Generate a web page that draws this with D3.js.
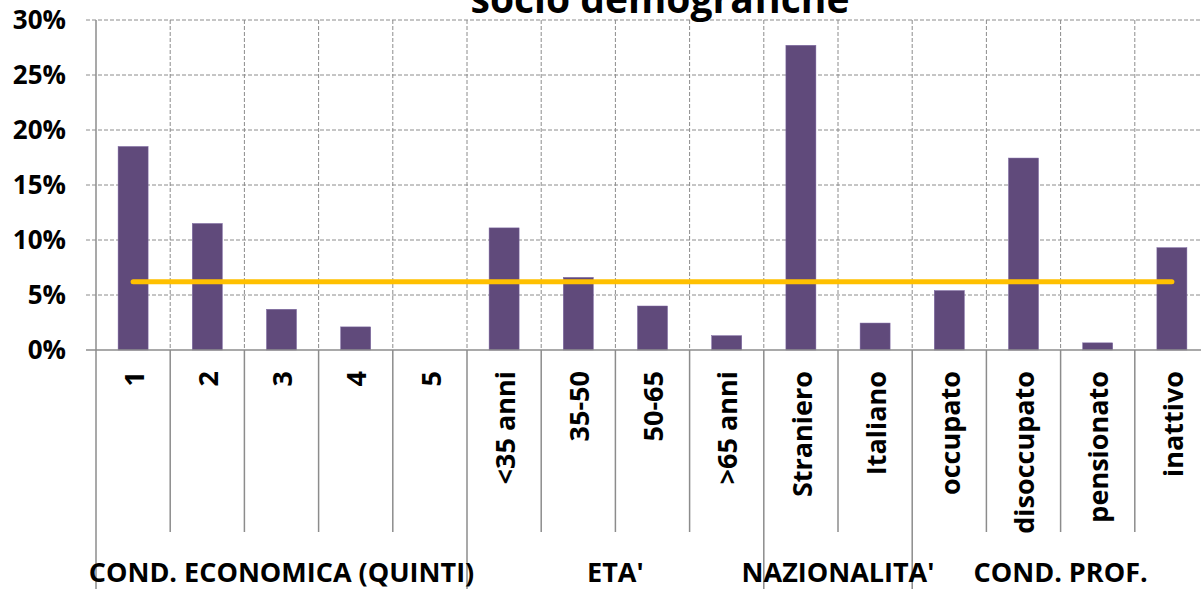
<!DOCTYPE html>
<html><head><meta charset="utf-8">
<script src="https://cdn.jsdelivr.net/npm/d3@7"></script>
<style>body{margin:0;background:#fff;overflow:hidden}text{font-family:"Open Sans",Lato,sans-serif;font-weight:bold;fill:#000}</style>
</head><body>
<svg id="c" width="1201" height="589"></svg>
<script>
const categories = ["1","2","3","4","5","<35 anni","35-50","50-65",">65 anni","Straniero","Italiano","occupato","disoccupato","pensionato","inattivo"];
const values = [18.5,11.5,3.7,2.1,0,11.1,6.6,4.0,1.3,27.7,2.45,5.4,17.45,0.65,9.3];
const average = [6.2,6.2,6.2,6.2,6.2,6.2,6.2,6.2,6.2,6.2,6.2,6.2,6.2,6.2,6.2];
const groups = [{name:"COND. ECONOMICA (QUINTI)",from:0,to:4},{name:"ETA'",from:5,to:8},{name:"NAZIONALITA'",from:9,to:10},{name:"COND. PROF.",from:11,to:14}];
const yTicks = [0,5,10,15,20,25,30];
const title = "socio demografiche";

const svg = d3.select("#c");
const x = d3.scaleBand().domain(categories).range([96,1209]).paddingInner(0).paddingOuter(0);
const y = d3.scaleLinear().domain([0,30]).range([350,20]);
const bw = x.bandwidth();

// horizontal grid
svg.append("g").selectAll("line").data(yTicks.slice(1)).join("line")
  .attr("x1",86).attr("x2",1209).attr("y1",d=>y(d)).attr("y2",d=>y(d))
  .attr("stroke","#8c8c8c").attr("stroke-width",1).attr("stroke-dasharray","4,2");
// vertical grid
svg.append("g").selectAll("line").data(categories.slice(1)).join("line")
  .attr("x1",d=>x(d)).attr("x2",d=>x(d)).attr("y1",y(30)).attr("y2",y(0))
  .attr("stroke","#8c8c8c").attr("stroke-width",1).attr("stroke-dasharray","4,2");

// bars
svg.append("g").selectAll("rect").data(values).join("rect")
  .attr("x",(d,i)=>x(categories[i])+bw/2-15).attr("width",30)
  .attr("y",d=>y(d)).attr("height",d=>y(0)-y(d))
  .attr("fill","#604A7B").attr("stroke","#7b65a0").attr("stroke-width",0.5);

// average line
const line = d3.line().x((d,i)=>x(categories[i])+bw/2).y(d=>y(d));
svg.append("path").datum(average).attr("d",line).attr("fill","none")
  .attr("stroke","#FFC000").attr("stroke-width",5).attr("stroke-linecap","round");

// y axis
svg.append("line").attr("x1",96).attr("x2",96).attr("y1",y(30)).attr("y2",y(0)).attr("stroke","#8c8c8c").attr("stroke-width",1.5);
svg.append("g").selectAll("text").data(yTicks).join("text")
  .attr("x",66).attr("y",d=>y(d)).attr("dy","0.36em").attr("text-anchor","end")
  .attr("font-size",26).text(d=>d+"%");

// x axis
svg.append("line").attr("x1",86).attr("x2",1209).attr("y1",y(0)).attr("y2",y(0)).attr("stroke","#8c8c8c").attr("stroke-width",1.5);
const boundaries = new Set(groups.map(g=>g.from));
svg.append("g").selectAll("line").data(categories).join("line")
  .attr("x1",d=>x(d)).attr("x2",d=>x(d)).attr("y1",y(0))
  .attr("y2",(d,i)=>boundaries.has(i)?589:532)
  .attr("stroke","#8c8c8c").attr("stroke-width",1.5);

svg.append("g").selectAll("text").data(categories).join("text")
  .attr("transform",d=>`translate(${x(d)+bw/2+1},371) rotate(-90)`)
  .attr("text-anchor","end").attr("dy","0.36em").attr("font-size",27).text(d=>d);

svg.append("g").selectAll("text").data(groups).join("text")
  .attr("x",g=>(x(categories[g.from])+x(categories[g.to])+bw)/2)
  .attr("y",582).attr("text-anchor","middle").attr("font-size",27).text(g=>g.name);

svg.append("text").attr("x",660).attr("y",12.5).attr("text-anchor","middle").attr("font-size",39).text(title);
</script>
</body></html>
